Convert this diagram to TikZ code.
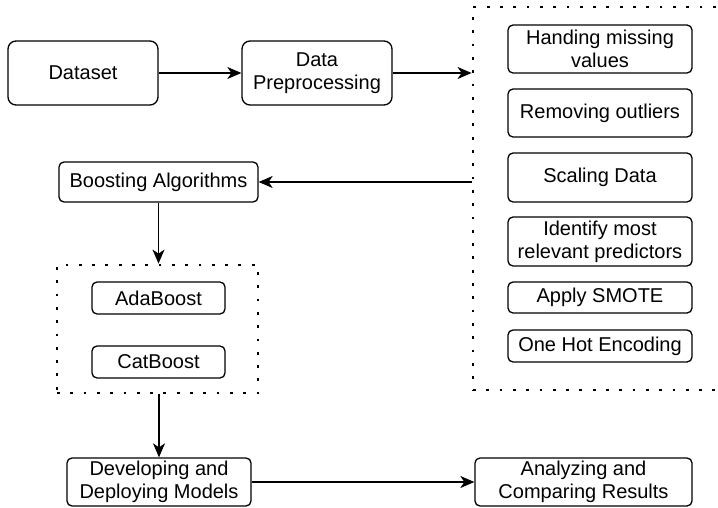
\documentclass[tikz,border=0pt]{standalone}
\usepackage{fontspec}
\setmainfont{Liberation Sans}
\usetikzlibrary{arrows.meta, positioning}

\begin{document}
\begin{tikzpicture}[
            x=1pt, y=-1pt,
            every node/.style={font=\fontsize{20}{23}\selectfont, align=center, inner sep=0pt},
            box/.style={draw, rounded corners=8pt, line width=1.3pt},
            smallbox/.style={draw, rounded corners=5pt, line width=1.3pt},
            dotbox/.style={draw, line width=2.8pt, dash pattern=on 2.8pt off 10.5pt},
            >={Stealth[length=14pt, width=12pt, inset=4pt]}
        ]
            \clip (0, 0) rectangle (718, 508);
            \node[box, minimum width=150pt, minimum height=64pt] (data) at (83, 73) {Dataset};
            \node[box, minimum width=150pt, minimum height=64pt] (pre) at (317, 73) {Data\\Preprocessing};
            \node[dotbox, minimum width=249pt, minimum height=383pt] (prep) at (597.5, 198.5) {};
            \node[smallbox, minimum width=184pt, minimum height=48pt] (miss) at (600, 49) {Handing missing\\values};
            \node[smallbox, minimum width=184pt, minimum height=48pt] (outl) at (600, 113) {Removing outliers};
            \node[smallbox, minimum width=184pt, minimum height=49pt] (scal) at (600, 177.5) {Scaling Data};
            \node[smallbox, minimum width=184pt, minimum height=49pt] (pred) at (600, 241.5) {Identify most\\relevant predictors};
            \node[smallbox, minimum width=184pt, minimum height=31pt] (smote) at (600, 297.5) {Apply SMOTE};
            \node[smallbox, minimum width=184pt, minimum height=32pt] (ohe) at (600, 346) {One Hot Encoding};
            \node[smallbox, minimum width=199pt, minimum height=40pt] (boost) at (158.5, 182) {Boosting Algorithms};
            \node[dotbox, minimum width=201pt, minimum height=128pt] (algs) at (157.5, 329) {};
            \node[smallbox, minimum width=133pt, minimum height=32pt] (ada) at (158.5, 298) {AdaBoost};
            \node[smallbox, minimum width=133pt, minimum height=32pt] (cat) at (158.5, 362) {CatBoost};
            \node[smallbox, minimum width=184pt, minimum height=48pt] (model) at (159, 482) {Developing and\\Deploying Models};
            \node[smallbox, minimum width=217pt, minimum height=48pt] (res) at (583.5, 482) {Analyzing and\\Comparing Results};
            \path[->, line width=1.3pt]
            (data) edge (pre)
            (pre.east) edge (pre.east -| prep.west)
            (prep.west |- boost.east) edge (boost.east)
            (boost.south) edge (boost.south |- algs.north)
            (algs.south -| model.north) edge (model.north)
            (model) edge (res)
            ;
        \end{tikzpicture}
\end{document}
